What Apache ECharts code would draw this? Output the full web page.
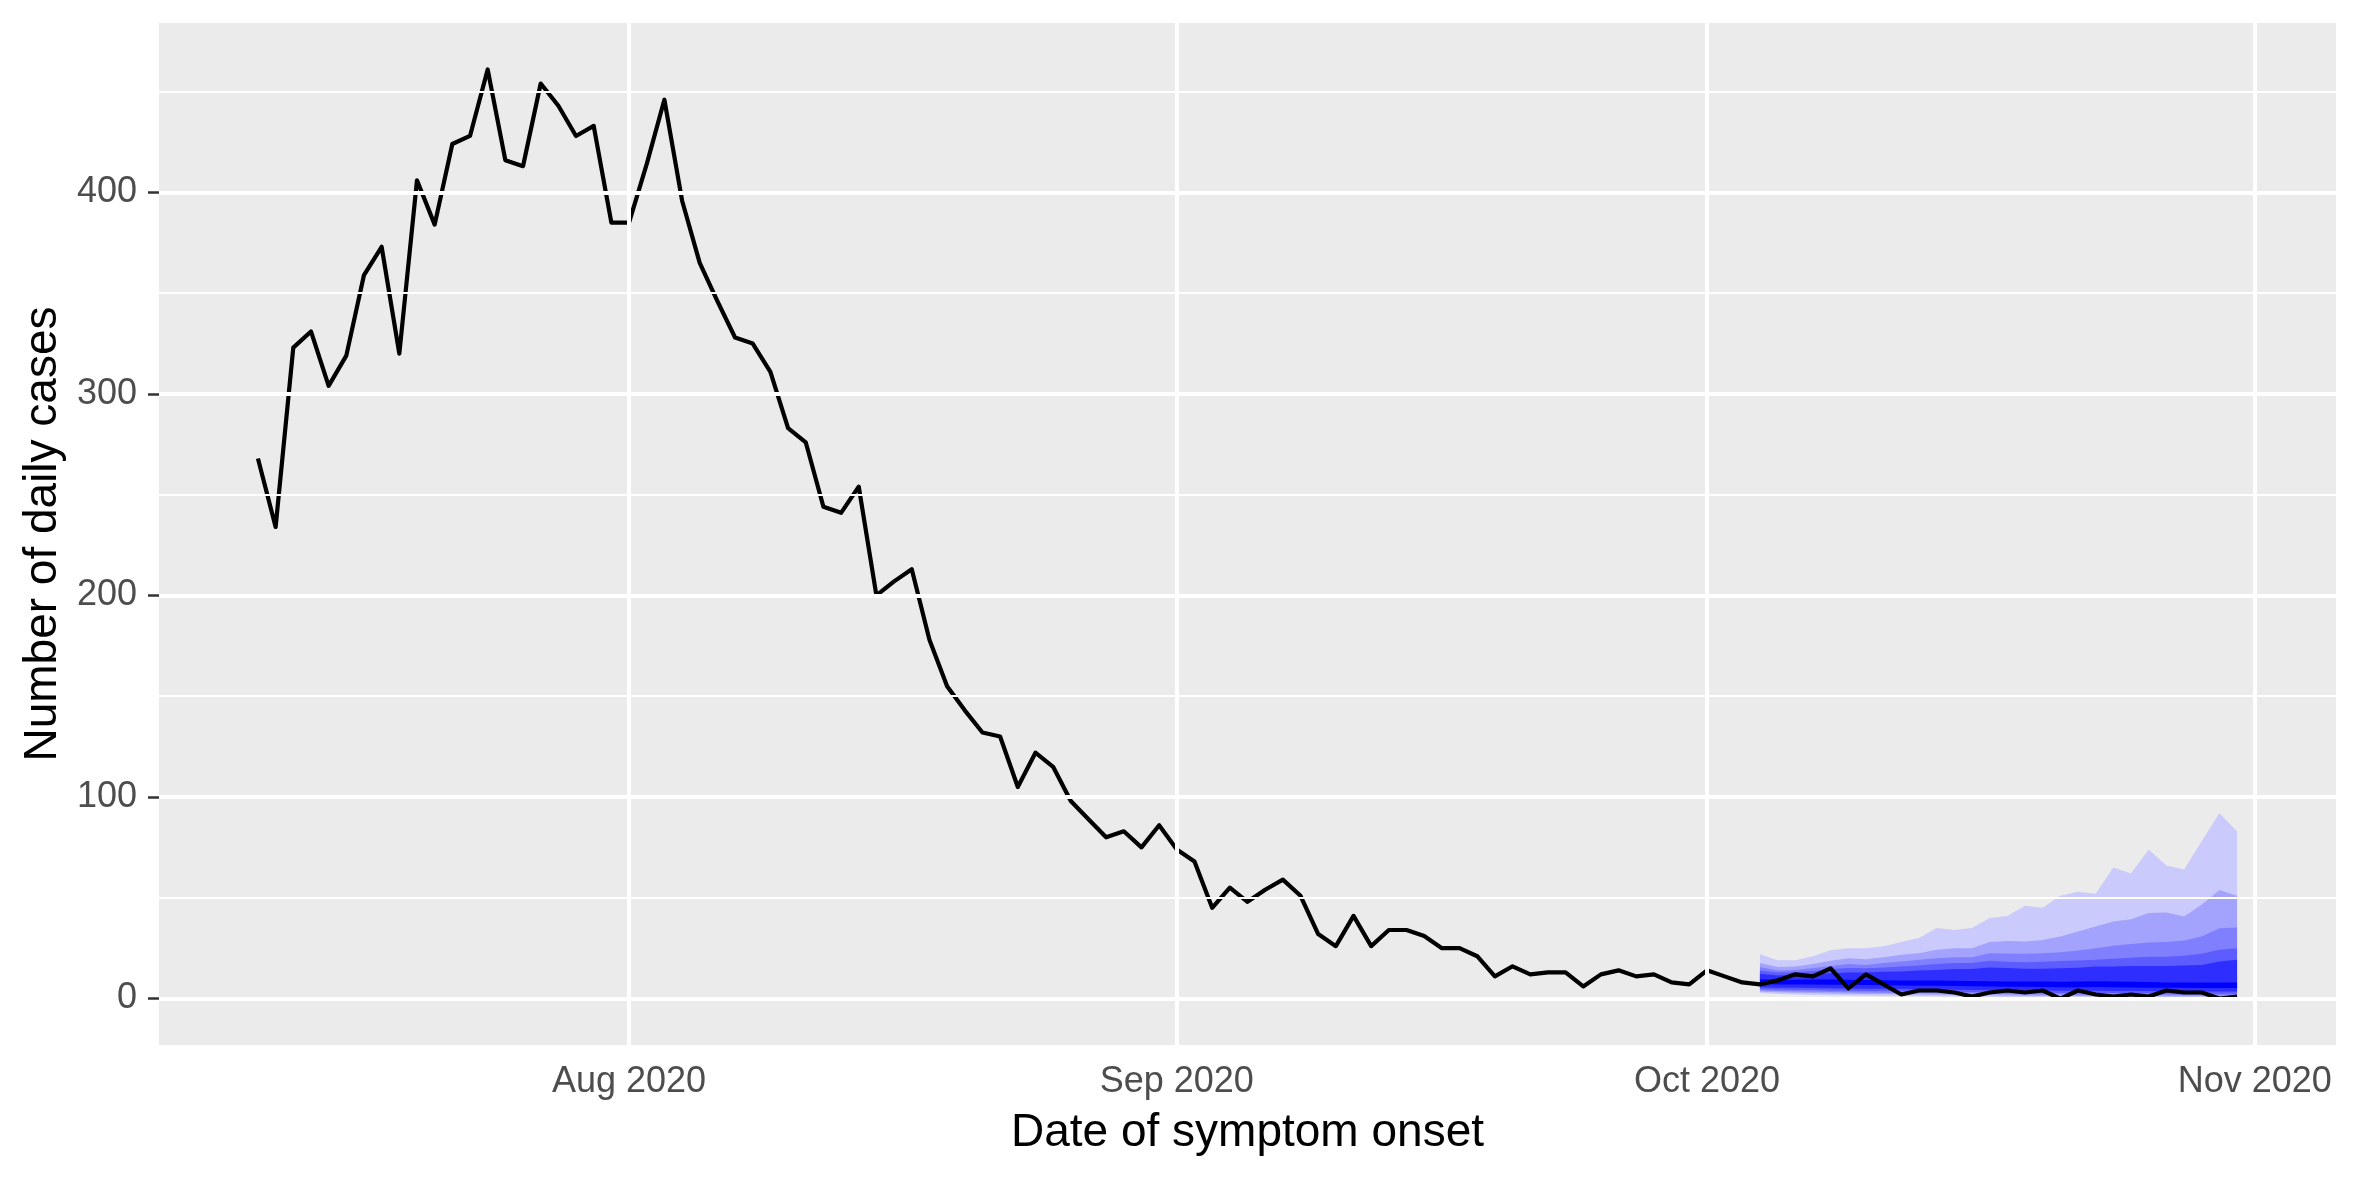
<!DOCTYPE html>
<html>
<head>
<meta charset="utf-8">
<script src="https://cdn.jsdelivr.net/npm/echarts@6/dist/echarts.min.js"></script>
<style>
    html, body { margin: 0; padding: 0; background: #ffffff; }
    #chart { width: 2362px; height: 1181px; }
</style>
</head>
<body>
<div id="chart"></div>
<script>
// daily cases by date of symptom onset, one value per day from startDate
const startDate = '2020-07-11';
const dailyCases = [
    268, 234, 323, 331, 304, 319, 359, 373, 320, 406, 384, 424, 428, 461, 416, 413, 454, 443, 428, 433, 385, 385,
    414, 446, 396, 365, 346, 328, 325, 311, 283, 276, 244, 241, 254, 200, 207, 213, 178, 155, 143, 132,
    130, 105, 122, 115, 98, 89, 80, 83, 75, 86, 74, 68,
    45, 55, 48, 54, 59, 51, 32, 26, 41, 26, 34, 34, 31, 25, 25, 21, 11, 16, 12, 13, 13, 6, 12, 14, 11, 12, 8, 7, 14,
    11, 8, 7, 9, 12, 11, 15, 5, 12, 7, 2, 4, 4, 3, 1, 3, 4, 3, 4, 0, 4, 2, 1, 2, 1, 4, 3, 3, 0, 1
];

// forecast fan, one value per day from forecastStart (outer band first)
const forecastStart = '2020-10-04';
const lower1 = [2.7, 2.3, 2.0, 1.8, 1.6, 1.5, 1.4, 1.3, 1.2, 1.1, 1.0, 0.9, 0.8, 0.7, 0.6, 0.5, 0.5, 0.4, 0.4, 0.3, 0.3, 0.3, 0.2, 0.2, 0.2, 0.1, 0.1, 0.1];
const upper1 = [22, 19, 19, 21, 24, 25, 25, 26, 28, 30, 35, 34, 35, 40, 41, 46, 45, 51, 53, 52, 65, 62, 74, 66, 64, 78, 92, 83];
const lower2 = [3.5, 3.1, 2.9, 2.7, 2.5, 2.4, 2.3, 2.2, 2.1, 2.0, 1.9, 1.8, 1.7, 1.6, 1.5, 1.4, 1.4, 1.3, 1.3, 1.2, 1.2, 1.1, 1.1, 1.0, 1.0, 1.0, 0.9, 0.9];
const upper2 = [17.6, 15.6, 15.9, 17.1, 18.7, 20.0, 19.5, 20.5, 21.7, 22.5, 24.2, 25.0, 25.0, 28.0, 28.5, 28.3, 29.1, 30.8, 33.3, 35.7, 38.2, 39.4, 42.4, 42.7, 40.7, 46.5, 53.9, 51.0];
const lower3 = [4.0, 3.7, 3.5, 3.4, 3.2, 3.1, 3.0, 2.9, 2.8, 2.7, 2.6, 2.5, 2.4, 2.3, 2.2, 2.1, 2.0, 2.0, 1.9, 1.9, 1.8, 1.8, 1.7, 1.7, 1.6, 1.6, 1.5, 1.5];
const upper3 = [15.6, 13.9, 14.2, 15.1, 16.2, 17.1, 16.7, 17.6, 18.4, 19.2, 20.0, 20.5, 20.5, 22.5, 22.3, 22.2, 22.5, 23.0, 23.8, 25.0, 26.2, 27.1, 27.8, 28.1, 28.8, 30.8, 34.9, 35.2];
const lower4 = [4.7, 4.4, 4.3, 4.2, 4.0, 3.9, 3.8, 3.7, 3.6, 3.5, 3.4, 3.3, 3.2, 3.1, 3.0, 2.9, 2.9, 2.8, 2.8, 2.7, 2.7, 2.6, 2.6, 2.5, 2.5, 2.5, 2.4, 2.4];
const upper4 = [13.9, 12.9, 13.0, 13.7, 14.6, 15.1, 15.0, 15.4, 15.9, 16.4, 17.1, 17.6, 17.6, 18.7, 18.2, 18.0, 18.3, 18.6, 18.9, 19.3, 19.7, 20.3, 20.8, 20.8, 21.2, 22.2, 24.2, 25.0];
const lower5 = [5.6, 5.4, 5.3, 5.2, 5.1, 5.0, 4.9, 4.8, 4.7, 4.6, 4.5, 4.4, 4.3, 4.2, 4.1, 4.0, 4.0, 3.9, 3.9, 3.9, 3.8, 3.7, 3.7, 3.6, 3.6, 3.5, 3.5, 3.5];
const upper5 = [12.3, 11.4, 11.7, 12.3, 12.6, 12.9, 12.9, 13.3, 13.4, 13.9, 14.2, 14.6, 14.6, 15.4, 15.2, 14.8, 14.8, 15.0, 15.3, 15.9, 15.9, 16.2, 16.2, 16.2, 16.4, 16.7, 18.4, 19.2];
const lower6 = [7.2, 7.0, 7.0, 7.0, 6.9, 6.8, 6.7, 6.6, 6.5, 6.4, 6.3, 6.2, 6.1, 6.0, 5.9, 5.8, 5.7, 5.6, 5.6, 5.7, 5.6, 5.5, 5.4, 5.3, 5.3, 5.2, 5.2, 5.2];
const upper6 = [9.6, 9.3, 9.3, 9.4, 9.4, 9.3, 9.2, 9.1, 9.0, 8.9, 8.9, 8.8, 8.7, 8.6, 8.5, 8.4, 8.4, 8.3, 8.4, 8.6, 8.4, 8.3, 8.2, 8.0, 8.0, 7.9, 7.9, 7.9];
const bandColors = ['#CACAFC', '#A3A3FE', '#8080FF', '#5C5CFF', '#2E2EFF', '#0000FF'];

// axes
const monthBreaks = ['2020-08-01', '2020-09-01', '2020-10-01', '2020-11-01'];
const monthLabels = ['Aug 2020', 'Sep 2020', 'Oct 2020', 'Nov 2020'];
const yBreaks = [0, 100, 200, 300, 400];
const yMinorBreaks = [50, 150, 250, 350, 450];

const DAY = 86400000;
const t0 = Date.parse(startDate);
const f0 = Date.parse(forecastStart);
const monthMs = monthBreaks.map(d => Date.parse(d));

const caseData = dailyCases.map((v, i) => [t0 + i * DAY, v]);
const xMin = t0 - 0.05 * (dailyCases.length - 1) * DAY;
const xMax = t0 + 1.05 * (dailyCases.length - 1) * DAY;
const yMax = Math.max(...dailyCases);
const yMin = -0.05 * yMax;
const yTop = yMax * 1.05;

const bands = [
    [lower1, upper1], [lower2, upper2], [lower3, upper3],
    [lower4, upper4], [lower5, upper5], [lower6, upper6]
];

const series = [];

// grid lines underneath everything
series.push({
    type: 'line',
    z: 1,
    data: [],
    silent: true,
    markLine: {
        silent: true,
        animation: false,
        symbol: ['none', 'none'],
        label: {show: false},
        data: [
            ...yMinorBreaks.map(v => ({yAxis: v, lineStyle: {color: '#ffffff', width: 2, type: 'solid'}})),
            ...yBreaks.map(v => ({yAxis: v, lineStyle: {color: '#ffffff', width: 4, type: 'solid'}})),
            ...monthMs.map(v => ({xAxis: v, lineStyle: {color: '#ffffff', width: 4, type: 'solid'}}))
        ]
    }
});

// each band is one polygon: upper edge forward, lower edge back
bands.forEach(([lo, hi], k) => {
    const rows = lo.map((v, i) => [f0 + i * DAY, v, hi[i]]);
    series.push({
        type: 'custom',
        z: 2,
        silent: true,
        clip: true,
        data: rows,
        encode: {x: 0, y: [1, 2]},
        renderItem: function (params, api) {
            if (params.dataIndex !== 0) return null;
            const pts = [];
            rows.forEach(r => pts.push(api.coord([r[0], r[2]])));
            for (let i = rows.length - 1; i >= 0; i--) pts.push(api.coord([rows[i][0], rows[i][1]]));
            return {
                type: 'polygon',
                shape: {points: pts},
                style: {fill: bandColors[k], stroke: null}
            };
        }
    });
});

series.push({
    type: 'line',
    z: 3,
    symbol: 'none',
    lineStyle: {color: '#000000', width: 4.2, join: 'round'},
    data: caseData
});

const chart = echarts.init(document.getElementById('chart'));
chart.setOption({
    animation: false,
    textStyle: {fontFamily: 'Liberation Sans'},
    grid: {
        left: 159, right: 26, top: 23, bottom: 136,
        show: true, backgroundColor: '#EBEBEB', borderWidth: 0
    },
    xAxis: {
        type: 'value',
        min: xMin,
        max: xMax,
        name: 'Date of symptom onset',
        nameLocation: 'middle',
        nameGap: 65,
        nameTextStyle: {fontSize: 46, color: '#000000', fontFamily: 'Liberation Sans'},
        axisLine: {show: false},
        splitLine: {show: false},
        axisTick: {show: true, length: 11, customValues: monthMs, lineStyle: {color: '#333333', width: 2.5}},
        axisLabel: {
            customValues: monthMs,
            margin: 19,
            fontSize: 36,
            color: '#4D4D4D',
            formatter: v => monthLabels[monthMs.indexOf(v)]
        }
    },
    yAxis: {
        type: 'value',
        min: yMin,
        max: yTop,
        name: 'Number of daily cases',
        nameLocation: 'middle',
        nameRotate: 90,
        nameGap: 91,
        nameTextStyle: {fontSize: 46, color: '#000000', fontFamily: 'Liberation Sans'},
        axisLine: {show: false},
        splitLine: {show: false},
        axisTick: {show: true, length: 11, customValues: yBreaks, lineStyle: {color: '#333333', width: 2.5}},
        axisLabel: {
            customValues: yBreaks,
            margin: 22,
            fontSize: 36,
            color: '#4D4D4D'
        }
    },
    series: series
});
</script>
</body>
</html>
